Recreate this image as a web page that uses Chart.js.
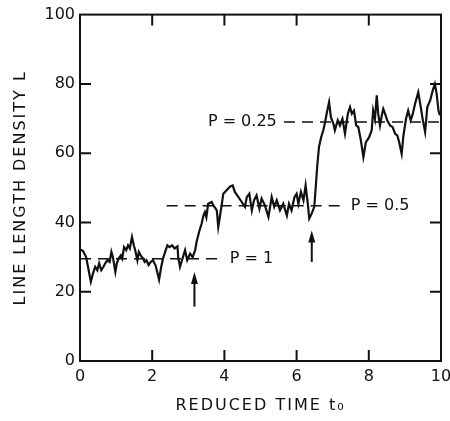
<!DOCTYPE html>
<html>
<head>
<meta charset="utf-8">
<script src="https://cdn.jsdelivr.net/npm/chart.js@4.4.1/dist/chart.umd.min.js"></script>
<style>
html,body{margin:0;padding:0;background:#fff;}
#wrap{width:450px;height:421px;}
</style>
</head>
<body>
<div id="wrap"><canvas id="chart"></canvas></div>
<script>
// reduced time t0 and line length density L
var timeVals = [0.00,0.08,0.17,0.24,0.30,0.36,0.42,0.48,0.53,0.59,0.65,0.70,0.76,0.82,0.87,0.91,0.98,1.02,1.07,1.13,
  1.17,1.22,1.28,1.33,1.38,1.44,1.49,1.53,1.59,1.63,1.68,1.75,1.79,1.84,1.90,1.96,2.02,2.09,2.14,2.19,
  2.25,2.30,2.36,2.42,2.48,2.55,2.62,2.70,2.72,2.77,2.84,2.91,2.97,3.05,3.12,3.19,3.23,3.30,3.37,3.42,
  3.46,3.50,3.55,3.65,3.69,3.79,3.83,3.88,3.93,3.97,4.06,4.16,4.23,4.29,4.39,4.48,4.57,4.62,4.69,4.76,
  4.82,4.89,4.97,5.03,5.12,5.22,5.31,5.38,5.45,5.54,5.63,5.73,5.79,5.86,5.94,6.00,6.05,6.12,6.19,6.25,
  6.31,6.35,6.42,6.49,6.53,6.57,6.62,6.68,6.74,6.79,6.84,6.90,6.95,7.02,7.06,7.14,7.20,7.27,7.34,7.42,
  7.48,7.53,7.59,7.65,7.71,7.78,7.85,7.92,8.01,8.08,8.12,8.17,8.22,8.26,8.31,8.36,8.40,8.45,8.51,8.59,
  8.66,8.73,8.79,8.84,8.91,8.96,9.03,9.09,9.16,9.22,9.28,9.37,9.44,9.49,9.56,9.62,9.70,9.77,9.83,9.88,
  9.93,9.97];
var densityVals = [32.2,31.8,30.0,26.2,22.9,25.3,27.2,26.2,28.2,26.2,27.2,28.2,29.1,28.6,31.5,30.0,25.7,28.2,29.6,30.5,
  29.6,32.9,32.0,33.4,32.5,35.8,33.4,32.0,29.1,31.5,30.5,29.6,28.6,29.1,27.7,28.6,29.1,27.7,25.7,23.5,
  27.2,29.6,31.5,33.4,32.9,33.4,32.5,33.1,30.0,27.2,29.6,32.0,29.1,31.0,30.0,32.0,34.4,37.3,39.7,42.0,
  43.0,41.5,45.4,45.9,45.0,43.5,38.7,42.0,45.4,48.3,49.3,50.4,50.7,48.8,47.3,45.9,44.5,47.3,48.3,43.5,
  46.4,47.8,44.0,46.9,45.0,41.6,47.3,44.5,46.4,43.5,45.4,42.0,45.4,43.5,47.3,48.3,45.4,48.8,46.4,50.7,
  45.4,41.1,42.6,44.5,50.2,56.0,61.8,64.6,66.6,69.0,71.8,74.7,70.4,68.5,66.6,69.5,68.0,69.9,65.6,71.4,
  73.3,71.4,72.3,68.0,67.5,63.7,58.9,63.2,64.6,66.6,72.3,69.9,76.7,71.4,68.0,70.9,72.8,71.4,69.5,68.0,
  67.5,65.6,65.1,63.2,59.8,65.1,69.9,72.3,69.5,71.4,74.2,77.6,73.3,69.9,66.1,73.3,75.2,78.1,80.0,77.1,
  72.3,70.9];

var xTicks = [0, 2, 4, 6, 8, 10];
var yTicks = [0, 20, 40, 60, 80, 100];

// P levels (dashed) and where their labels sit
var levelNames = ['P = 1', 'P = 0.5', 'P = 0.25'];
var levelValues = [29.5, 44.8, 69.0];
var levelStart = [0, 2.4, 5.65];
var levelEnd = [3.8, 7.3, 10];
var labelTimes = [4.15, 7.5, 5.45];
var labelAlign = ['left', 'left', 'right'];

// arrows below the jumps
var arrowTimes = [3.17, 6.42];
var arrowFrom = [15.7, 28.6];
var arrowTo = [25.7, 37.7];

var FONT = 'DejaVu Sans';
var INK = '#111';

var lineData = timeVals.map(function(t, i){ return {x: t, y: densityVals[i]}; });

var datasets = [{
  data: lineData,
  borderColor: INK,
  borderWidth: 2.2,
  pointRadius: 0,
  tension: 0,
  fill: false
}];
for (var i = 0; i < levelValues.length; i++) {
  datasets.push({
    data: [{x: levelStart[i], y: levelValues[i]}, {x: levelEnd[i], y: levelValues[i]}],
    borderColor: INK,
    borderWidth: 1.6,
    borderDash: [11, 7],
    pointRadius: 0,
    fill: false
  });
}

var framePlugin = {
  id: 'frame',
  afterDatasetsDraw: function(chart){
    var ctx = chart.ctx, a = chart.chartArea;
    var xs = chart.scales.x, ys = chart.scales.y;
    ctx.save();
    ctx.strokeStyle = INK;
    ctx.lineWidth = 2;
    ctx.strokeRect(a.left, a.top, a.right - a.left, a.bottom - a.top);

    // inward tick marks on all four sides
    var tl = 11;
    ctx.beginPath();
    xTicks.slice(1, -1).forEach(function(v){
      var px = xs.getPixelForValue(v);
      ctx.moveTo(px, a.bottom); ctx.lineTo(px, a.bottom - tl);
      ctx.moveTo(px, a.top); ctx.lineTo(px, a.top + tl);
    });
    yTicks.slice(1, -1).forEach(function(v){
      var py = ys.getPixelForValue(v);
      ctx.moveTo(a.left, py); ctx.lineTo(a.left + tl, py);
      ctx.moveTo(a.right, py); ctx.lineTo(a.right - tl, py);
    });
    ctx.stroke();

    // level labels
    ctx.fillStyle = INK;
    ctx.font = '16px "' + FONT + '"';
    ctx.textBaseline = 'middle';
    for (var i = 0; i < levelNames.length; i++) {
      ctx.textAlign = labelAlign[i];
      ctx.fillText(levelNames[i], xs.getPixelForValue(labelTimes[i]), ys.getPixelForValue(levelValues[i]));
    }

    // arrows
    ctx.lineWidth = 2;
    for (var j = 0; j < arrowTimes.length; j++) {
      var ax = xs.getPixelForValue(arrowTimes[j]);
      var y0 = ys.getPixelForValue(arrowFrom[j]);
      var y1 = ys.getPixelForValue(arrowTo[j]);
      ctx.beginPath();
      ctx.moveTo(ax, y0); ctx.lineTo(ax, y1 + 8);
      ctx.stroke();
      ctx.beginPath();
      ctx.moveTo(ax, y1);
      ctx.lineTo(ax - 3.5, y1 + 12);
      ctx.lineTo(ax + 3.5, y1 + 12);
      ctx.closePath();
      ctx.fill();
    }
    ctx.restore();
  }
};

var chart = new Chart(document.getElementById('chart'), {
  type: 'line',
  data: { datasets: datasets },
  options: {
    responsive: true,
    maintainAspectRatio: false,
    animation: false,
    layout: { padding: { top: 14, right: 9, left: 0, bottom: 0 } },
    plugins: { legend: { display: false }, tooltip: { enabled: false } },
    scales: {
      x: {
        type: 'linear', min: 0, max: 10,
        afterBuildTicks: function(s){ s.ticks = xTicks.map(function(v){ return {value: v}; }); },
        afterFit: function(s){ s.height = 60; s.paddingLeft = 0; s.paddingRight = 0; },
        grid: { display: false, drawTicks: false },
        border: { display: false },
        ticks: { color: INK, padding: 6, maxRotation: 0, font: { family: FONT, size: 16 } },
        title: { display: true, text: 'REDUCED TIME t\u2080', color: INK, padding: { top: 0, bottom: 6 },
                 font: { family: FONT, size: 16 } }
      },
      y: {
        type: 'linear', min: 0, max: 100,
        afterBuildTicks: function(s){ s.ticks = yTicks.map(function(v){ return {value: v}; }); },
        afterFit: function(s){ s.width = 80; },
        grid: { display: false, drawTicks: false },
        border: { display: false },
        ticks: { color: INK, padding: 5, font: { family: FONT, size: 16 } },
        title: { display: true, text: 'LINE LENGTH DENSITY L', color: INK, padding: { top: 11, bottom: 0 },
                 font: { family: FONT, size: 16 } }
      }
    }
  },
  plugins: [framePlugin]
});

// the axis titles in the figure are lettered with wide spacing
['x', 'y'].forEach(function(id){
  var sc = chart.scales[id];
  var orig = sc.drawTitle;
  sc.drawTitle = function(){
    this.ctx.save();
    this.ctx.letterSpacing = '2px';
    orig.apply(this, arguments);
    this.ctx.restore();
  };
});
chart.draw();
</script>
</body>
</html>
